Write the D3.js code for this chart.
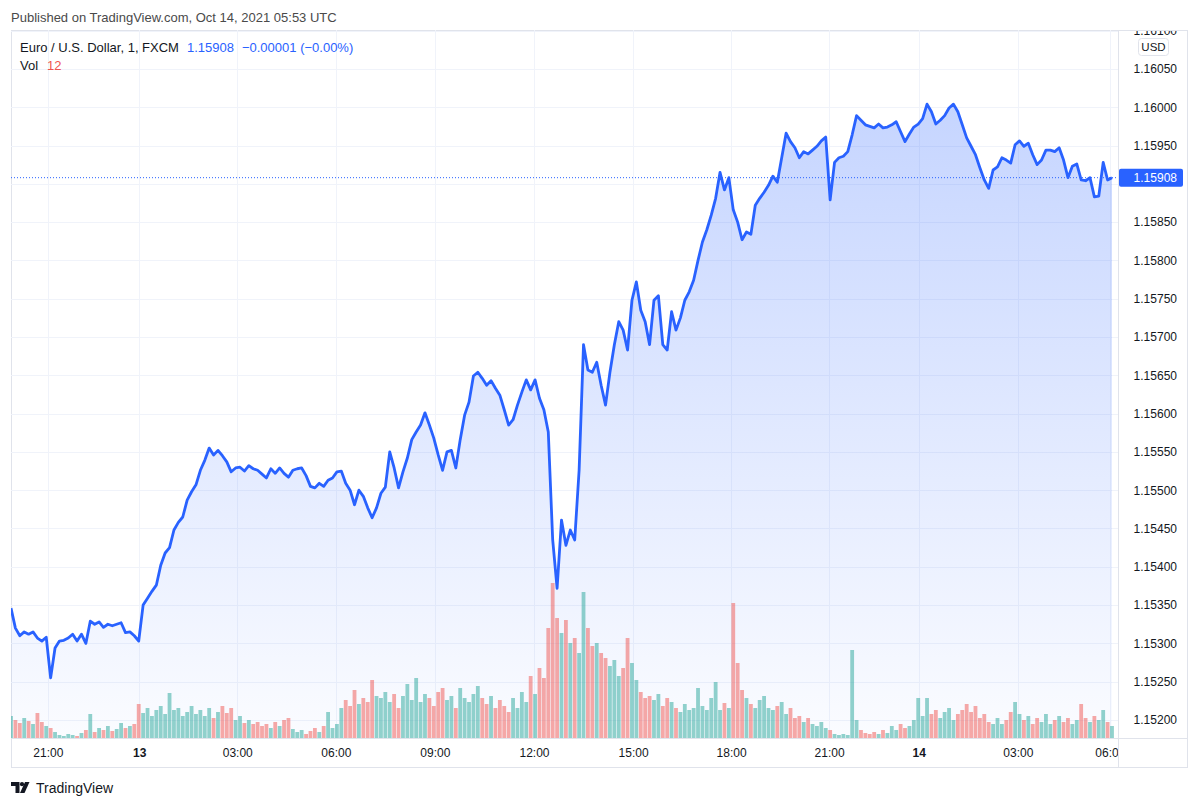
<!DOCTYPE html>
<html><head><meta charset="utf-8">
<script src="https://cdn.jsdelivr.net/npm/d3@7"></script>
<style>
body{margin:0;background:#fff;}
svg{display:block;font-family:"Liberation Sans",Arial,sans-serif;}
</style>
</head><body>
<svg id="c" width="1200" height="807"></svg>
<script>
// ---- DATA ----
// EUR/USD 1-minute closes, sampled every 8 bars
const barStep = 8;
const prices = [
1.15346,1.15320,1.15310,1.15315,1.15312,1.15315,1.15307,1.15303,1.15308,1.15255,
1.15294,1.15303,1.15304,1.15307,1.15312,1.15303,1.15312,1.15300,1.15329,1.15325,
1.15328,1.15321,1.15325,1.15323,1.15325,1.15327,1.15314,1.15315,1.15310,1.15303,
1.15350,1.15359,1.15368,1.15376,1.15402,1.15418,1.15425,1.15448,1.15458,1.15465,
1.15487,1.15498,1.15507,1.15526,1.15539,1.15555,1.15546,1.15552,1.15545,1.15537,
1.15524,1.15529,1.15530,1.15525,1.15532,1.15528,1.15526,1.15521,1.15516,1.15528,
1.15522,1.15529,1.15522,1.15517,1.15526,1.15528,1.15529,1.15519,1.15505,1.15503,
1.15509,1.15505,1.15513,1.15516,1.15524,1.15525,1.15509,1.15500,1.15481,1.15500,
1.15492,1.15477,1.15464,1.15477,1.15496,1.15504,1.15550,1.15529,1.15503,1.15524,
1.15542,1.15566,1.15576,1.15585,1.15601,1.15585,1.15568,1.15546,1.15526,1.15550,
1.15552,1.15529,1.15566,1.15598,1.15615,1.15649,1.15654,1.15646,1.15637,1.15643,
1.15633,1.15624,1.15605,1.15585,1.15592,1.15611,1.15628,1.15644,1.15631,1.15644,
1.15620,1.15605,1.15576,1.15435,1.15372,1.15461,1.15428,1.15448,1.15435,1.15526,
1.15690,1.15657,1.15654,1.15667,1.15637,1.15611,1.15654,1.15690,1.15720,1.15709,
1.15683,1.15748,1.15772,1.15735,1.15720,1.15690,1.15748,1.15754,1.15690,1.15683,
1.15733,1.15709,1.15725,1.15748,1.15759,1.15774,1.15800,1.15824,1.15840,1.15859,
1.15881,1.15915,1.15892,1.15908,1.15866,1.15850,1.15827,1.15837,1.15834,1.15872,
1.15881,1.15889,1.15898,1.15910,1.15902,1.15934,1.15966,1.15955,1.15947,1.15934,
1.15942,1.15939,1.15944,1.15949,1.15956,1.15961,1.15879,1.15928,1.15934,1.15936,
1.15942,1.15964,1.15989,1.15983,1.15977,1.15975,1.15973,1.15978,1.15973,1.15974,
1.15977,1.15981,1.15968,1.15955,1.15965,1.15974,1.15978,1.15985,1.16004,1.15994,
1.15978,1.15983,1.15989,1.15999,1.16004,1.15994,1.15977,1.15960,1.15949,1.15938,
1.15921,1.15905,1.15894,1.15918,1.15922,1.15934,1.15931,1.15927,1.15951,1.15956,
1.15949,1.15953,1.15938,1.15925,1.15931,1.15944,1.15944,1.15942,1.15947,1.15931,
1.15908,1.15923,1.15926,1.15905,1.15904,1.15908,1.15883,1.15884,1.15928,1.15905,1.15908
];
const volumes = [
22,18,15,20,17,14,25,16,12,10,
6,3,2,4,3,2,5,8,24,6,
10,8,12,7,9,15,10,12,14,34,
25,30,22,28,32,24,45,28,30,22,
26,32,24,28,22,30,20,26,32,25,
30,18,22,15,18,14,16,12,14,10,
16,12,18,20,9,6,8,4,7,10,
6,12,26,10,14,30,38,32,48,34,
40,36,58,42,40,46,36,44,30,42,
54,38,60,36,44,40,32,46,50,38,
42,30,50,40,36,44,52,40,34,42,
30,38,32,26,40,30,46,36,62,44,
70,60,110,155,120,105,118,95,100,85,
146,110,92,95,85,80,72,78,62,70,
100,75,58,46,40,42,38,44,32,40,
36,30,26,34,28,30,50,32,28,40,
56,28,35,30,135,75,48,40,34,30,
38,42,30,28,32,36,24,30,20,22,
16,20,14,12,16,10,8,4,3,4,
3,88,18,8,5,4,6,4,8,5,
12,8,14,10,12,18,40,22,40,24,
28,20,26,30,18,24,28,34,26,32,
20,24,16,14,20,14,18,26,36,24,
18,22,14,20,16,24,14,18,22,16,
20,14,18,34,20,16,22,18,28,16,12
];
const timeLabels = ["21:00","13","03:00","06:00","09:00","12:00","15:00","18:00","21:00","14","03:00","06:00"];
const timeBars   = [67,233,411,590,770,950,1130,1308,1486,1649,1829,1996];
const priceTicks = [1.152,1.1525,1.153,1.1535,1.154,1.1545,1.155,1.1555,1.156,1.1565,1.157,1.1575,1.158,1.1585,1.159,1.1595,1.16,1.1605,1.161];
const lastPrice = 1.15908;
const changeAbs = "\u22120.00001";
const changePct = "(\u22120.00%)";
const lastVol = 12;
const symbolTitle = "Euro / U.S. Dollar, 1, FXCM";
const publishedText = "Published on TradingView.com, Oct 14, 2021 05:53 UTC";

// ---- LAYOUT ----
const L = 11, R = 1118, T = 30, B = 738, AX = 1188, BB = 768;
const svg = d3.select("#c");
const defs = svg.append("defs");
defs.append("clipPath").attr("id","pane").append("rect").attr("x",L).attr("y",T).attr("width",R-L).attr("height",B-T);
defs.append("clipPath").attr("id","yax").append("rect").attr("x",R).attr("y",T+1).attr("width",AX-R).attr("height",B-T);
defs.append("clipPath").attr("id","xax").append("rect").attr("x",L).attr("y",B).attr("width",R-L).attr("height",BB-B);
const grad = defs.append("linearGradient").attr("id","ag").attr("gradientUnits","userSpaceOnUse")
  .attr("x1",0).attr("x2",0).attr("y1",100).attr("y2",B);
grad.append("stop").attr("offset",0).attr("stop-color","#2962ff").attr("stop-opacity",0.27);
grad.append("stop").attr("offset",1).attr("stop-color","#2962ff").attr("stop-opacity",0.02);

const x = d3.scaleLinear().domain([0,2000]).range([L,1112]);
const y = d3.scaleLinear().domain([1.152,1.1605]).range([720,68.9]);
const vy = d3.scaleLinear().domain([0,160]).range([B,578]);

const pts = prices.map((p,i)=>({i:i*barStep,p,v:volumes[i],up:i===0||p>=prices[i-1]}));

// header
svg.append("text").attr("x",L).attr("y",17).attr("dy","0.35em")
  .attr("font-size",13).attr("fill","#4a4a4a").text(publishedText);

// frame
svg.append("rect").attr("x",L+0.5).attr("y",T+0.5).attr("width",AX-L-1).attr("height",BB-T-1)
  .attr("fill","none").attr("stroke","#e0e3eb");

const pane = svg.append("g").attr("clip-path","url(#pane)");
// grid
pane.selectAll(".hg").data(priceTicks).join("line")
  .attr("x1",L).attr("x2",R).attr("y1",d=>Math.round(y(d))+0.5).attr("y2",d=>Math.round(y(d))+0.5)
  .attr("stroke","#f0f3fa");
pane.selectAll(".vg").data(timeBars).join("line")
  .attr("y1",T).attr("y2",B).attr("x1",d=>Math.round(x(d))+0.5).attr("x2",d=>Math.round(x(d))+0.5)
  .attr("stroke","#f0f3fa");

// area
pane.append("path").datum(pts)
  .attr("d",d3.area().x(d=>x(d.i)).y0(B).y1(d=>y(d.p)))
  .attr("fill","url(#ag)");

// volume
pane.selectAll(".vb").data(pts).join("rect")
  .attr("x",d=>x(d.i)-1.9).attr("width",3.8)
  .attr("y",d=>vy(d.v)).attr("height",d=>B-vy(d.v))
  .attr("fill",d=>d.up?"rgba(38,166,154,0.5)":"rgba(239,83,80,0.5)");

// last price dotted line
pane.append("line").attr("x1",L).attr("x2",R).attr("y1",y(lastPrice)).attr("y2",y(lastPrice))
  .attr("stroke","#2962ff").attr("stroke-width",1).attr("stroke-dasharray","1,2");

// price line
pane.append("path").datum(pts)
  .attr("d",d3.line().x(d=>x(d.i)).y(d=>y(d.p)))
  .attr("fill","none").attr("stroke","#2962ff").attr("stroke-width",2.8)
  .attr("stroke-linejoin","round");

// axis separators
svg.append("line").attr("x1",R+0.5).attr("x2",R+0.5).attr("y1",T).attr("y2",BB).attr("stroke","#e0e3eb");
svg.append("line").attr("x1",L).attr("x2",AX).attr("y1",B+0.5).attr("y2",B+0.5).attr("stroke","#e0e3eb");

// y axis (the tick hidden behind the last-price label is not shown)
const hidden = d => Math.abs(y(d) - y(lastPrice)) < 12;
const ya = svg.append("g").attr("clip-path","url(#yax)").append("g")
  .attr("transform",`translate(1177,0)`)
  .call(d3.axisLeft(y).tickValues(priceTicks.filter(d=>!hidden(d))).tickFormat(d3.format(".5f")).tickSize(0).tickPadding(0));
ya.select(".domain").remove();
ya.selectAll("text").attr("font-size",12).attr("fill","#131722").attr("font-family",null);

// USD box
svg.append("rect").attr("x",1138.5).attr("y",38.5).attr("width",30).attr("height",17).attr("rx",3)
  .attr("fill","#fff").attr("stroke","#e0e3eb");
svg.append("text").attr("x",1153.5).attr("y",47).attr("dy","0.35em").attr("text-anchor","middle")
  .attr("font-size",11.5).attr("fill","#131722").text("USD");

// last price label
svg.append("rect").attr("x",R+1).attr("y",y(lastPrice)-9).attr("width",64).attr("height",18).attr("rx",2)
  .attr("fill","#2962ff");
svg.append("text").attr("x",1177).attr("y",y(lastPrice)).attr("dy","0.35em").attr("text-anchor","end")
  .attr("font-size",12).attr("fill","#fff").text(d3.format(".5f")(lastPrice));

// x axis
const xa = svg.append("g").attr("clip-path","url(#xax)").append("g")
  .attr("transform",`translate(0,${B})`)
  .call(d3.axisBottom(x).tickValues(timeBars).tickFormat((d,i)=>timeLabels[i]).tickSize(0).tickPadding(10));
xa.select(".domain").remove();
xa.selectAll("text").attr("font-size",12).attr("fill","#131722").attr("font-family",null)
  .attr("font-weight",(d,i)=>timeLabels[i].includes(":")?"normal":"bold");

// legend
const lg = svg.append("text").attr("x",20).attr("y",47).attr("dy","0.35em").attr("font-size",13);
lg.append("tspan").attr("fill","#131722").text(symbolTitle);
lg.append("tspan").attr("dx",8).attr("fill","#2962ff").text(d3.format(".5f")(lastPrice));
lg.append("tspan").attr("dx",8).attr("fill","#2962ff").text(changeAbs+" "+changePct);
const lv = svg.append("text").attr("x",20).attr("y",65).attr("dy","0.35em").attr("font-size",13);
lv.append("tspan").attr("fill","#131722").text("Vol");
lv.append("tspan").attr("dx",9).attr("fill","#ef5350").text(lastVol);

// footer logo
const logo = svg.append("g").attr("fill","#131722");
logo.append("path").attr("d","M11,782 H19.5 V793 H15.5 V786 H11 Z");
logo.append("circle").attr("cx",22).attr("cy",784.2).attr("r",2.1);
logo.append("path").attr("d","M25,782 H29.5 L24.5,793 H20 Z");
svg.append("text").attr("x",36).attr("y",788).attr("dy","0.35em").attr("font-size",14)
  .attr("fill","#131722").text("TradingView");
</script>
</body></html>
